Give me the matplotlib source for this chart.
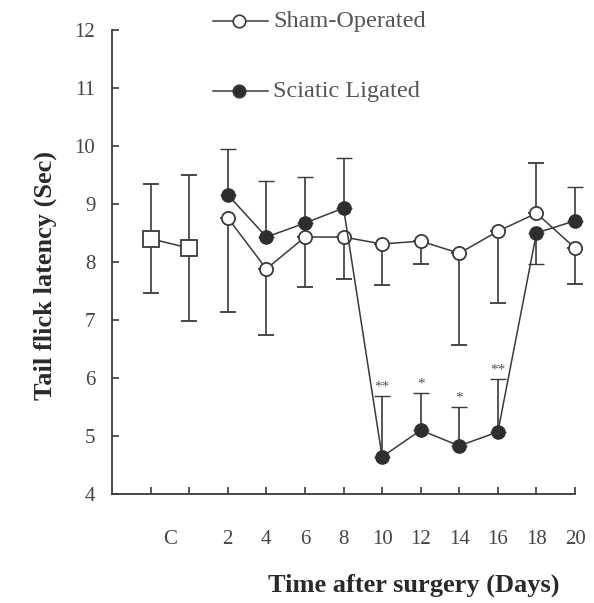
import numpy as np
import matplotlib
matplotlib.use("Agg")
import matplotlib.pyplot as plt
from matplotlib.lines import Line2D

plt.rcParams["font.family"] = ["Liberation Serif", "DejaVu Serif"]

# control group (C), two measurements
ctrl_pos = [0, 1]
ctrl_mean = [8.40, 8.24]
ctrl_err = [0.94, 1.26]

# days after surgery
days = [2, 4, 6, 8, 10, 12, 14, 16, 18, 20]
sham_mean = [8.76, 7.88, 8.43, 8.43, 8.31, 8.36, 8.15, 8.53, 8.84, 8.24]
sham_err = [1.62, 1.14, 0.86, 0.72, 0.71, 0.39, 1.58, 1.24, 0.87, 0.62]
sham_dir = [-1, -1, -1, -1, -1, -1, -1, -1, 1, -1]   # -1 = bar drawn down
lig_mean = [9.16, 8.43, 8.67, 8.93, 4.64, 5.10, 4.83, 5.07, 8.50, 8.71]
lig_err = [0.79, 0.97, 0.80, 0.86, 1.05, 0.64, 0.67, 0.91, 0.53, 0.58]
lig_dir = [1, 1, 1, 1, 1, 1, 1, 1, -1, 1]
signif = ["", "", "", "", "**", "*", "*", "**", "", ""]

day_labels = [str(d) for d in days]

ink = "#3a3a3a"

fig = plt.figure(figsize=(5.94, 6.03), dpi=100)
ax = fig.add_axes([0.1886, 0.1808, 0.7795, 0.7695])

pos = np.array(days) / 2 + 1


def split_err(err, direction):
    err = np.array(err)
    direction = np.array(direction)
    lower = np.where(direction < 0, err, 0)
    upper = np.where(direction > 0, err, 0)
    return [lower, upper]


eb = dict(ecolor=ink, elinewidth=1.2, capsize=5.5, capthick=1.2, color=ink, lw=1.1)

conts = []
conts.append(ax.errorbar(ctrl_pos, ctrl_mean, yerr=ctrl_err, marker="s", ms=12,
                         mfc="white", mec=ink, mew=1.3, zorder=3, **eb))
conts.append(ax.errorbar(pos, sham_mean, yerr=split_err(sham_err, sham_dir), marker="o",
                         ms=9.5, mfc="white", mec=ink, mew=1.3, zorder=3, **eb))
conts.append(ax.errorbar(pos, lig_mean, yerr=split_err(lig_err, lig_dir), marker="o",
                         ms=9.5, mfc="#2e2e2e", mec="#2e2e2e", mew=1.0, zorder=4, **eb))
for c in conts:
    for art in c.get_children():
        art.set_clip_on(False)

for x, m, e, s in zip(pos, lig_mean, lig_err, signif):
    if s:
        ax.annotate(s, (x, m + e), xytext=(0, 2), textcoords="offset points",
                    ha="center", va="bottom", fontsize=11, color="#555555")

ax.set_xlim(-1, 11)
ax.set_ylim(4, 12)
ax.set_yticks(range(4, 13))
ax.set_xticks(range(0, 12))
ax.set_xticklabels(["", ""] + day_labels)
ax.set_xticks([0.5], minor=True)
ax.set_xticklabels(["C"], minor=True)

for s in ["top", "right"]:
    ax.spines[s].set_visible(False)
for s in ["left", "bottom"]:
    ax.spines[s].set_color(ink)
    ax.spines[s].set_linewidth(1.3)

ax.tick_params(axis="y", direction="in", length=5, width=1.2, color=ink,
               labelsize=15, labelcolor="#444444", pad=12)
ax.tick_params(axis="x", which="major", direction="in", length=5, width=1.2, color=ink,
               labelsize=15, labelcolor="#444444", pad=26)
ax.tick_params(axis="x", which="minor", length=0, labelsize=15,
               labelcolor="#444444", pad=26)

fig.text(414 / 594, 1 - 585 / 603, "Time after surgery (Days)", ha="center",
         va="center", fontsize=19, fontweight="bold", color="#2a2a2a")
fig.text(45 / 594, 1 - 276 / 603, "Tail flick latency (Sec)", ha="center",
         va="center", rotation=90, fontsize=19, fontweight="bold", color="#2a2a2a")

# legend drawn by hand, entries far apart
for ly, fc, label in [(21, "white", "Sham-Operated"), (91, "#2e2e2e", "Sciatic Ligated")]:
    yy = 1 - ly / 603
    fig.add_artist(Line2D([213 / 594, 268 / 594], [yy, yy], color=ink, lw=1.1))
    fig.add_artist(Line2D([239 / 594], [yy], marker="o", ms=9, mfc=fc, mec=ink, mew=1.2))
    fig.text(273 / 594, yy, label, ha="left", va="center", fontsize=17.5, color="#555555")

fig.savefig("out.png", dpi=100)
